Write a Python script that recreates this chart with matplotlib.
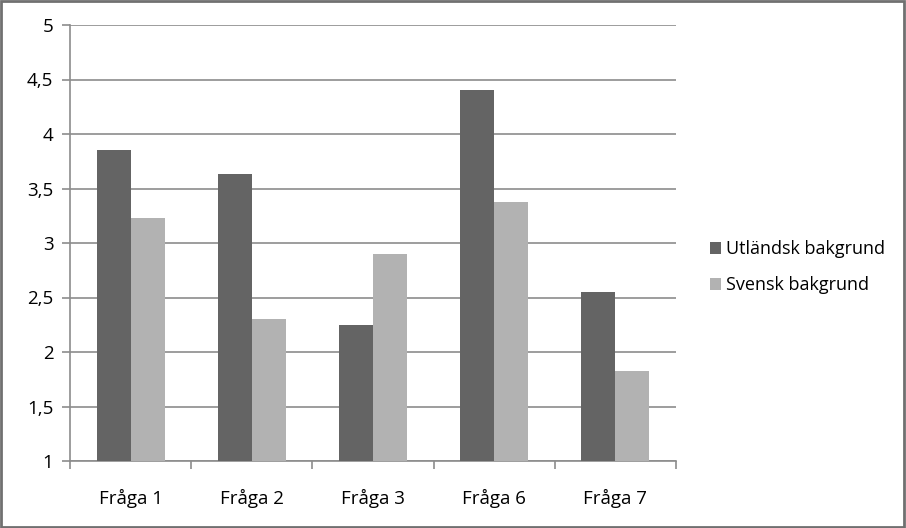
import matplotlib.pyplot as plt
import numpy as np

categories = ['Fråga 1', 'Fråga 2', 'Fråga 3', 'Fråga 6', 'Fråga 7']
utlandsk = [3.85, 3.63, 2.25, 4.40, 2.55]
svensk = [3.23, 2.30, 2.90, 3.38, 1.83]
series_names = ['Utländsk bakgrund', 'Svensk bakgrund']

plt.rcParams['font.family'] = ['Open Sans', 'DejaVu Sans']

fig = plt.figure(figsize=(9.06, 5.28), dpi=100)
ax = fig.add_axes([70 / 906, 67 / 528, 606 / 906, 436 / 528])

x = np.arange(len(categories))
w = 0.28
ax.bar(x - w / 2, [v - 1 for v in utlandsk], w, bottom=1, color='#646464', label=series_names[0], zorder=3)
ax.bar(x + w / 2, [v - 1 for v in svensk], w, bottom=1, color='#b2b2b2', label=series_names[1], zorder=3)

ax.set_xlim(-0.5, len(categories) - 0.5)
ax.set_ylim(1, 5)
yt = np.arange(1, 5.01, 0.5)
ax.set_yticks(yt)
ax.set_yticklabels([('%g' % v).replace('.', ',') for v in yt], fontsize=13.5, color='black')
ax.yaxis.grid(True, color='#8c8c8c', linewidth=1.2, zorder=0)

ax.set_xticks(np.arange(len(categories) + 1) - 0.5)
ax.set_xticklabels([])
ax.set_xticks(x, minor=True)
ax.set_xticklabels(categories, minor=True, fontsize=13.5, color='black')
ax.tick_params(axis='x', which='major', length=6, color='#8c8c8c', width=1.2)
ax.tick_params(axis='x', which='minor', length=0, pad=20)
ax.tick_params(axis='y', length=6, color='#8c8c8c', width=1.2, pad=6, direction='out')

for s in ['top', 'right']:
    ax.spines[s].set_visible(False)
ax.spines['left'].set_color('#8c8c8c')
ax.spines['bottom'].set_color('#8c8c8c')
ax.spines['left'].set_linewidth(1.2)
ax.spines['bottom'].set_linewidth(1.2)

leg = fig.legend(loc='upper left', bbox_to_anchor=(694 / 906, 1 - 224 / 528), frameon=False,
                 fontsize=13, handlelength=0.6, handleheight=0.6, handletextpad=0.3,
                 labelspacing=1.0)

fig.patches.append(plt.Rectangle((0.001, 0.002), 0.997, 0.996, transform=fig.transFigure,
                                 fill=False, edgecolor='#707070', linewidth=2))

fig.savefig('out.png', dpi=100)
